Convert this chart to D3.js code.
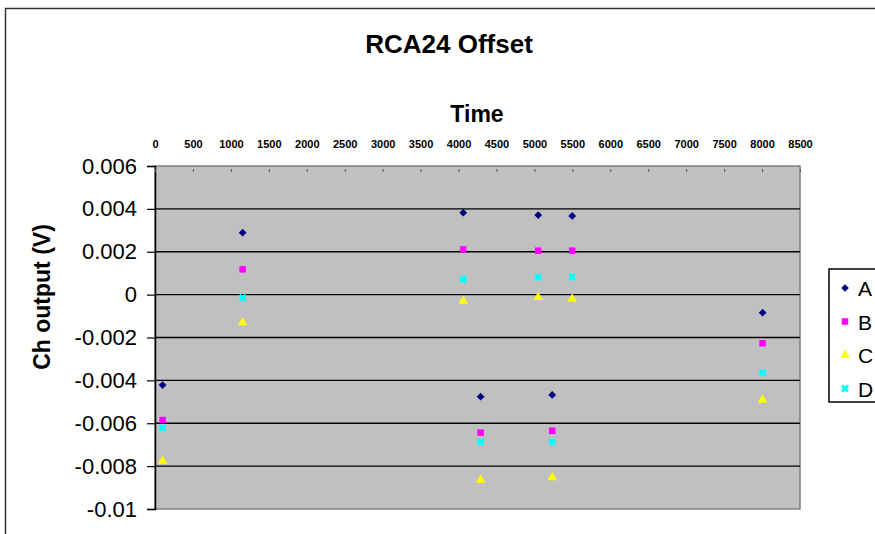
<!DOCTYPE html>
<html><head><meta charset="utf-8">
<script src="https://cdn.jsdelivr.net/npm/d3@7"></script>
<style>body{margin:0;background:#fff}svg{display:block;font-family:"Liberation Sans",Arial,sans-serif}</style>
</head><body><svg id="c" width="875" height="534"></svg>
<script>
const times = [100, 1155, 4062, 4291, 5050, 5235, 5498, 8007];
const seriesA = [-0.00422, 0.00289, 0.00382, -0.00476, 0.00371, -0.00468, 0.00367, -0.00084];
const seriesB = [-0.00585, 0.00118, 0.00211, -0.00644, 0.00205, -0.00635, 0.00205, -0.00227];
const seriesC = [-0.00776, -0.0013, -0.00030, -0.00865, -0.00012, -0.00853, -0.00020, -0.00491];
const seriesD = [-0.00622, -0.00014, 0.00072, -0.00687, 0.00081, -0.00686, 0.00082, -0.00364];
const seriesNames = ["A", "B", "C", "D"];
const xTicks = d3.range(0, 8501, 500);
const yTicks = [0.006, 0.004, 0.002, 0, -0.002, -0.004, -0.006, -0.008, -0.01];
const yTickLabels = ["0.006", "0.004", "0.002", "0", "-0.002", "-0.004", "-0.006", "-0.008", "-0.01"];

const svg = d3.select("#c");
const L = 155, R = 800, T = 166, B = 509;
const x = d3.scaleLinear().domain([0, 8500]).range([L, R]);
const y = d3.scaleLinear().domain([-0.01, 0.006]).range([B, T]);

// outer border
svg.append("path").attr("d", "M5.5,534 V8.5 H875").attr("fill", "none").attr("stroke", "#333").attr("stroke-width", 1.5);

// plot bg
svg.append("rect").attr("x", L).attr("y", T).attr("width", R - L).attr("height", B - T)
  .attr("fill", "#c0c0c0").attr("stroke", "#808080").attr("stroke-width", 1.5);

// gridlines
svg.append("g").selectAll("line").data(yTicks.filter(v => v > -0.01 && v < 0.006)).join("line")
  .attr("x1", L).attr("x2", R).attr("y1", d => y(d)).attr("y2", d => y(d))
  .attr("stroke", "#000").attr("stroke-width", 1.3);

// y axis
const ya = svg.append("g").attr("transform", `translate(${L},0)`)
  .call(d3.axisLeft(y).tickValues(yTicks).tickSize(8).tickPadding(10).tickFormat((d, i) => yTickLabels[i]));
ya.select(".domain").attr("stroke", "#000").attr("stroke-width", 1.5);
ya.selectAll(".tick line").attr("stroke", "#000").attr("stroke-width", 1.2);
ya.selectAll("text").attr("font-size", 22).attr("fill", "#000").attr("font-family", "Liberation Sans, Arial");

// x axis top
const xa = svg.append("g").attr("transform", `translate(0,${T})`)
  .call(d3.axisTop(x).tickValues(xTicks).tickSize(3).tickPadding(15).tickFormat(d3.format("d")));
xa.select(".domain").remove();
xa.selectAll(".tick line").attr("stroke", "#555").attr("transform", "translate(0,6)");
xa.selectAll("text").attr("font-size", 11).attr("fill", "#000").attr("font-weight", "bold")
  .attr("font-family", "Liberation Sans Narrow, Liberation Sans, Arial");

// titles
svg.append("text").attr("x", 449).attr("y", 53).attr("text-anchor", "middle")
  .attr("font-size", 26).attr("font-weight", "bold").text("RCA24 Offset");
svg.append("text").attr("x", 477).attr("y", 122).attr("text-anchor", "middle")
  .attr("font-size", 23).attr("font-weight", "bold").text("Time");
svg.append("text").attr("transform", "translate(50,297) rotate(-90)").attr("text-anchor", "middle")
  .attr("font-size", 23).attr("font-weight", "bold").text("Ch output (V)");

// markers
const colors = { A: "#000080", B: "#ff00ff", C: "#ffff00", D: "#00ffff" };
const symbols = { A: d3.symbolSquare, B: d3.symbolSquare, C: d3.symbolTriangle, D: d3.symbolCross };
const rot = { A: 45, B: 0, C: 0, D: 45 };
const sizes = { A: 30, B: 42, C: 40, D: 40 };
const allSeries = { A: seriesA, B: seriesB, C: seriesC, D: seriesD };
const order = ["C", "D", "B", "A"];
order.forEach(k => {
  const data = times.map((t, i) => [t, allSeries[k][i]]);
  svg.append("g").selectAll("path").data(data).join("path")
    .attr("transform", d => `translate(${x(d[0])},${y(d[1])}) rotate(${rot[k]})`)
    .attr("d", d3.symbol().type(symbols[k]).size(sizes[k]))
    .attr("fill", colors[k]);
});

// legend
const lg = svg.append("g");
lg.append("rect").attr("x", 829).attr("y", 269).attr("width", 60).attr("height", 133)
  .attr("fill", "#fff").attr("stroke", "#000").attr("stroke-width", 1.5);
seriesNames.forEach((k, i) => {
  const cy = 288 + i * 33.5;
  lg.append("path").attr("transform", `translate(845,${cy}) rotate(${rot[k]})`)
    .attr("d", d3.symbol().type(symbols[k]).size(sizes[k])).attr("fill", colors[k]);
  lg.append("text").attr("x", 858).attr("y", cy + 8).attr("font-size", 21).attr("fill", "#000").text(k);
});
</script></body></html>
